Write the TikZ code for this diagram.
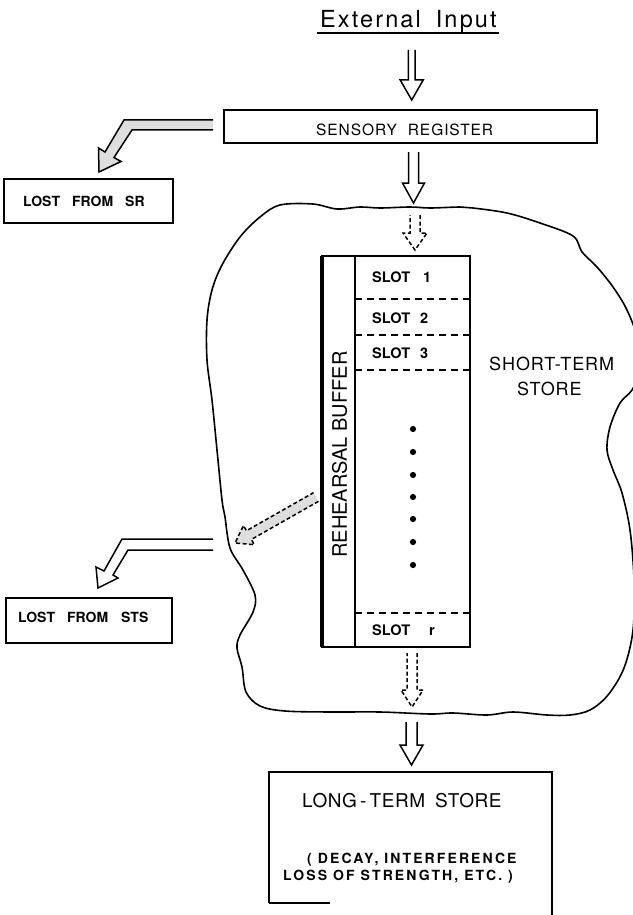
\documentclass[tikz,border=0pt]{standalone}
\usepackage{fontspec}
\newfontfamily\hv{TeX Gyre Heros}
\newfontfamily\hvtitle{TeX Gyre Heros}[LetterSpace=9]
\newfontfamily\hvsr{TeX Gyre Heros}[LetterSpace=6]
\newfontfamily\hvsts{TeX Gyre Heros}[LetterSpace=5]
\newfontfamily\hvlts{TeX Gyre Heros}[LetterSpace=3]
\newfontfamily\hvpar{TeX Gyre Heros}[LetterSpace=15]
\usetikzlibrary{calc}
% fat open arrow from #2 to #3: shaft half-width #4, head half-width #5, head length #6
\newcommand\fatarrow[6][]{%
  \coordinate (fac) at ($(#3)!#6!(#2)$);
  \path[#1] ($(#2)!#4!90:(#3)$) -- ($(fac)!#4!90:(#3)$) -- ($(fac)!#5!90:(#3)$) -- (#3)
    -- ($(fac)!#5!-90:(#3)$) -- ($(fac)!#4!-90:(#3)$) -- ($(#2)!#4!-90:(#3)$);
}
\begin{document}
\begin{tikzpicture}[x=1pt,y=-1pt,
  box/.style={draw, line width=1.8pt, inner sep=0pt, outer sep=0pt},
  arr/.style={draw, line width=1.5pt, fill=white, line join=miter},
  darr/.style={arr, dash pattern=on 4pt off 2.5pt},
  lbl/.style={inner sep=0pt, anchor=base west},
  slotline/.style={line width=1.5pt, dash pattern=on 7pt off 5pt},
  slottxt/.style={lbl, font=\hv\bfseries\fontsize{14.5}{16}\selectfont},
  losttxt/.style={lbl, font=\hv\bfseries\fontsize{14}{15}\selectfont}]
\useasboundingbox (0,0) rectangle (632,915);

% short-term store outline
\draw[line width=1.6pt] plot[smooth cycle, tension=0.55] coordinates {
 (280,205) (313,204) (337,209) (360,207) (380,208) (410,207) (430,208) (460,207)
 (473,208) (507,213) (540,223) (573,236) (582,252) (597,267) (613,287) (627,310)
 (638,340) (640,370) (632,390) (620,403) (610,427) (607,450) (613,470) (622,493)
 (630,530) (634,580) (633,630) (624,668) (608,695) (590,710) (570,715) (547,715)
 (513,712) (487,715) (453,713) (430,714) (380,712) (330,712) (285,711) (260,706)
 (246,692) (242,667) (237,648) (240,635) (253,612) (255,595) (243,570) (230,548)
 (225,517) (222,500) (217,450) (212,400) (207,360) (207,320) (212,290) (222,265)
 (240,237) (260,217)};

% title
\node[lbl, font=\hvtitle\fontsize{23.5}{26}\selectfont] (title) at (320,28) {External\hspace{15pt}Input};
\draw[line width=1.6pt] ($(title.base west)+(-3,5)$) -- ($(title.base east)+(2,5)$);

% sensory register
\node[box, minimum width=373pt, minimum height=33pt, anchor=north west] (sr) at (224,110) {};
\node[lbl, font=\hvsr\fontsize{15.5}{17}\selectfont] (srtext) at (316,135.5) {SENSORY\hspace{11pt}REGISTER};

% lost from SR
\node[box, minimum width=169pt, minimum height=44pt, anchor=north west] (lsr) at (4,179) {};
\node[losttxt] (lsrtext) at (23,206.5) {LOST\hspace{12pt}FROM\hspace{12pt}SR};

% lost from STS
\node[box, minimum width=166pt, minimum height=45pt, anchor=north west] (lsts) at (6,598) {};
\node[losttxt] (lststext) at (18,622.5) {LOST\hspace{12pt}FROM\hspace{13pt}STS};

% rehearsal buffer
\node[box, minimum width=148pt, minimum height=391pt, anchor=north west] (buf) at (322,256) {};
\draw[line width=3.2pt] (buf.north west) -- (buf.south west);
\draw[line width=1.5pt] ($(buf.north west)+(33,0)$) -- ($(buf.south west)+(33,0)$);
\foreach \yy in {299,335,370,613} \draw[slotline] (355,\yy) -- (470,\yy);
\node[slottxt] (s1) at (372,282.5) {SLOT\hspace{13pt}1};
\node[slottxt] (s2) at (372,323) {SLOT\hspace{10pt}2};
\node[slottxt] (s3) at (372,358) {SLOT\hspace{10pt}3};
\node[slottxt] (sr2) at (372,635) {SLOT\hspace{19pt}r};
\foreach \yy in {429,452,475,497,519,542,565} \fill (413,\yy) circle (3.1pt);
\node[inner sep=0pt, rotate=90, font=\hv\fontsize{20}{22}\selectfont] (rb) at (339.5,454.5) {REHEARSAL BUFFER};

% short-term store label
\node[lbl, font=\hvsts\fontsize{18}{20}\selectfont] (sts1) at (489,370) {SHORT-TERM};
\node[lbl, font=\hvsts\fontsize{18}{20}\selectfont] (sts2) at (517,395) {STORE};

% long-term store
\draw[line width=1.8pt] (269,903) -- (269,772) -- (552,772) -- (552,918);
\draw[line width=1.8pt] (269,903) -- (330,903);
\coordinate (lts) at (411.5,772);
\node[lbl, font=\hvlts\fontsize{19}{21}\selectfont] (lt1) at (302,807) {LONG\,-\,TERM\hspace{10pt}STORE};
\node[lbl, font=\hvpar\bfseries\fontsize{14}{16}\selectfont] (lt2) at (307,863) {( DECAY, INTERFERENCE};
\node[lbl, font=\hvpar\bfseries\fontsize{14}{16}\selectfont] (lt3) at (283,880) {LOSS OF STRENGTH, ETC. )};

% vertical arrows
\coordinate (a1s) at (411.7,50);  \coordinate (a1e) at (411.7,100);
\fatarrow[arr]{a1s}{a1e}{3.4pt}{11.5pt}{20pt}
\coordinate (a2s) at (413.5,152); \coordinate (a2e) at (413.5,203);
\fatarrow[arr]{a2s}{a2e}{5pt}{11pt}{20pt}
\coordinate (a3s) at (415,215);   \coordinate (a3e) at (415,250);
\fatarrow[darr]{a3s}{a3e}{5pt}{12pt}{17pt}
\coordinate (a4s) at (412,653);   \coordinate (a4e) at (412,707);
\fatarrow[darr]{a4s}{a4e}{5pt}{11pt}{17pt}
\coordinate (a5s) at (411.5,722); \coordinate (a5e) at (411.5,765);
\fatarrow[arr]{a5s}{a5e}{5.5pt}{11.5pt}{20pt}
% diagonal dashed arrow out of the buffer
\coordinate (d1) at (316,497); \coordinate (d2) at (235,543);
\fatarrow[darr, fill=black!13]{d1}{d2}{5pt}{11pt}{16pt}

% bent arrows to the "lost" boxes
\path[arr, fill=black!13] (213,120) -- (124,120) -- (105,152) -- (98.5,148) -- (99,172)
  -- (121,161.5) -- (114,157.5) -- (132,130) -- (213,130);
\path[arr] (213,539) -- (122,539) -- (104,571) -- (96,567) -- (98,588)
  -- (118,578) -- (113,575) -- (128,550) -- (213,550);
\end{tikzpicture}
\end{document}
